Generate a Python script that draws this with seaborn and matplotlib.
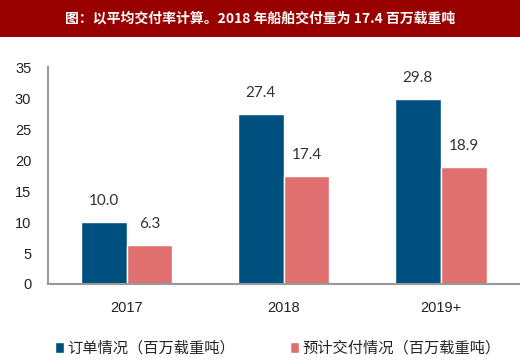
import numpy as np
import pandas as pd
import matplotlib
matplotlib.use("Agg")
import matplotlib.pyplot as plt
import seaborn as sns
from matplotlib.patches import Rectangle

years = ["2017", "2018", "2019+"]
orders = [10.0, 27.4, 29.8]
deliveries = [6.3, 17.4, 18.9]
series_names = ["订单情况（百万载重吨）", "预计交付情况（百万载重吨）"]
title = "图：以平均交付率计算。2018 年船舶交付量为 17.4 百万载重吨"

df = pd.DataFrame({
    "year": years * 2,
    "value": orders + deliveries,
    "series": [series_names[0]] * 3 + [series_names[1]] * 3,
})

sns.set_style("white")
plt.rcParams["font.family"] = ["Liberation Sans", "Noto Sans CJK SC", "DejaVu Sans"]

fig = plt.figure(figsize=(5.2, 3.61), dpi=100)
ax = fig.add_axes([0.0923, 0.2133, 0.906, 0.601])

palette = ["#00507F", "#E07070"]
sns.barplot(data=df, x="year", y="value", hue="series", palette=palette,
            width=0.585, saturation=1, ax=ax, legend=True)

for cont in ax.containers:
    ax.bar_label(cont, fmt="%.1f", padding=10, fontsize=11, color="#333333",
                 family=["Lato", "DejaVu Sans"])

ax.set_ylim(0, 35)
ax.set_yticks(range(0, 36, 5))
ax.set_xlim(-0.5, 2.5)
ax.set_xlabel("")
ax.set_ylabel("")
for s in ["top", "right"]:
    ax.spines[s].set_visible(False)
for s in ["left", "bottom"]:
    ax.spines[s].set_color("#999999")
    ax.spines[s].set_linewidth(1.5)
ax.tick_params(axis="y", length=4, color="#999999", labelsize=10.5, labelcolor="#222222", pad=8)
ax.tick_params(axis="x", which="major", length=0, labelsize=10.5, labelcolor="#222222", pad=12)
ax.set_xticks([0.5, 1.5], minor=True)
ax.tick_params(axis="x", which="minor", length=4, color="#999999", width=1.2)

handles, labels = ax.get_legend_handles_labels()
ax.get_legend().remove()
fig.legend(handles, labels, loc="center", bbox_to_anchor=(0.535, 0.035), ncol=2,
           frameon=False, handlelength=0.55, handleheight=0.75,
           handletextpad=0.25, columnspacing=3.6,
           prop={"family": ["Noto Sans CJK SC", "DejaVu Sans"], "size": 11})

fig.patches.append(Rectangle((0, 1 - 37 / 361), 1, 37 / 361, transform=fig.transFigure,
                             facecolor="#990000", edgecolor="none", zorder=0))
fig.text(0.5, 1 - 19 / 361, title, ha="center", va="center", color="white",
         fontsize=10, fontweight="bold", family=["Noto Sans CJK SC", "DejaVu Sans"])

fig.savefig("out.png", dpi=100)
